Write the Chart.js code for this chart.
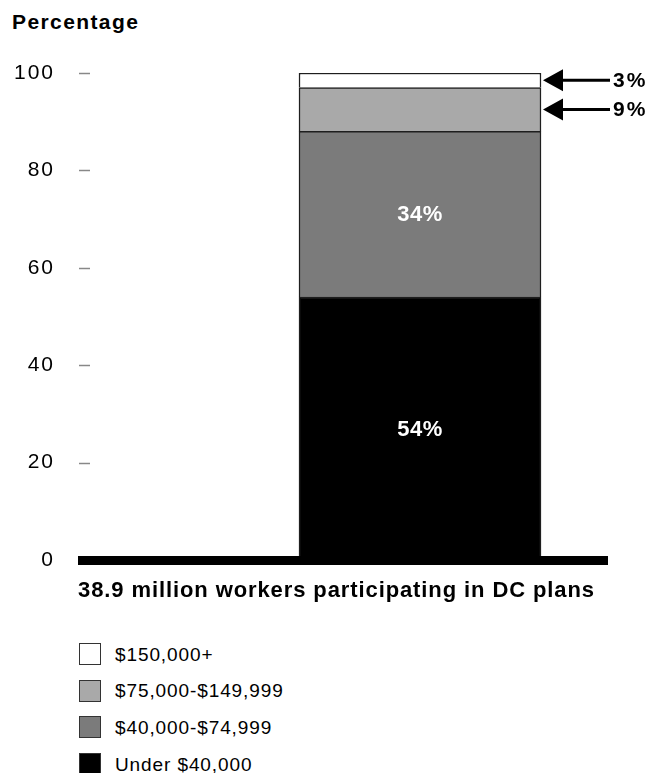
<!DOCTYPE html>
<html>
<head>
<meta charset="utf-8">
<script src="https://cdn.jsdelivr.net/npm/chart.js@4.4.1/dist/chart.umd.min.js"></script>
<style>
  body { margin: 0; width: 652px; height: 773px; background: #fff; position: relative; overflow: hidden;
         font-family: "Liberation Sans", Arial, sans-serif; color: #000; }
  #wrap { position: absolute; left: 0; top: 0; width: 652px; height: 580px; }
  #chart { display: block; width: 652px; height: 580px; }
  .ytitle { position: absolute; left: 12px; top: 11px; font-size: 21px; line-height: 21px; font-weight: bold; letter-spacing: 1.4px; }
  .xtitle { position: absolute; left: 78px; top: 579px; font-size: 22px; line-height: 22px; font-weight: bold; letter-spacing: 0.9px; white-space: nowrap; }
  #legend { position: absolute; left: 79px; top: 643px; }
  .item { display: flex; align-items: center; height: 22px; margin-bottom: 14.7px; }
  .swatch { box-sizing: border-box; width: 22px; height: 22px; border: 1.5px solid #333; margin-right: 14px; }
  .item span { font-size: 19px; line-height: 19px; letter-spacing: 0.9px; white-space: nowrap; }
</style>
</head>
<body>
<div class="ytitle">Percentage</div>
<div id="wrap"><canvas id="chart" width="652" height="580"></canvas></div>
<div class="xtitle" id="xtitle"></div>
<div id="legend"></div>

<script>
// Data
const categories = ['38.9 million workers participating in DC plans'];
const incomeGroups = ['Under $40,000', '$40,000-$74,999', '$75,000-$149,999', '$150,000+'];
const shares = [54, 34, 9, 3];
const yMax = 100;
const yStep = 20;

// Styles
const fills = ['#000000', '#7b7b7b', '#a9a9a9', '#ffffff'];
const FONT = '"Liberation Sans", Arial, sans-serif';

document.getElementById('xtitle').textContent = categories[0];

// Legend, top item first
const legend = document.getElementById('legend');
incomeGroups.slice().reverse().forEach((g, k) => {
    const i = incomeGroups.length - 1 - k;
    const row = document.createElement('div');
    row.className = 'item';
    row.innerHTML = `<div class="swatch" style="background:${fills[i]}"></div><span></span>`;
    row.querySelector('span').textContent = g;
    legend.appendChild(row);
});

const decor = {
    id: 'decor',
    beforeDraw(chart) {
        // tracking for the axis numbers
        chart.ctx.letterSpacing = '2px';
    },
    afterDatasetsDraw(chart) {
        const { ctx, chartArea } = chart;
        const y = chart.scales.y;
        ctx.save();
        ctx.letterSpacing = '0px';

        // short dashes beside the tick numbers
        ctx.strokeStyle = '#888';
        ctx.lineWidth = 1.5;
        y.ticks.forEach(t => {
            if (t.value === 0) return;
            const py = Math.round(y.getPixelForValue(t.value)) + 0.5;
            ctx.beginPath();
            ctx.moveTo(79, py);
            ctx.lineTo(90, py);
            ctx.stroke();
        });

        // heavy baseline
        const y0 = y.getPixelForValue(0);
        ctx.fillStyle = '#000';
        ctx.fillRect(78, y0 - 4, chartArea.right - 78, 9);

        // segment labels
        shares.forEach((v, i) => {
            const el = chart.getDatasetMeta(i).data[0];
            const cy = (el.y + el.base) / 2;
            if (v >= 20) {
                ctx.fillStyle = '#fff';
                ctx.font = 'bold 22px ' + FONT;
                ctx.letterSpacing = '0.5px';
                ctx.textAlign = 'center';
                ctx.textBaseline = 'middle';
                ctx.fillText(v + '%', el.x, cy + 1);
            } else {
                const right = el.x + el.width / 2;
                ctx.fillStyle = '#000';
                ctx.beginPath();
                ctx.moveTo(right + 2, cy);
                ctx.lineTo(right + 22, cy - 11);
                ctx.lineTo(right + 22, cy + 11);
                ctx.closePath();
                ctx.fill();
                ctx.strokeStyle = '#000';
                ctx.lineWidth = 3;
                ctx.beginPath();
                ctx.moveTo(right + 20, cy);
                ctx.lineTo(right + 69, cy);
                ctx.stroke();
                ctx.font = 'bold 21px ' + FONT;
                ctx.letterSpacing = '2px';
                ctx.textAlign = 'left';
                ctx.textBaseline = 'middle';
                ctx.fillText(v + '%', right + 72, cy + 1);
            }
        });
        ctx.restore();
    }
};

new Chart(document.getElementById('chart'), {
    type: 'bar',
    data: {
        labels: categories,
        datasets: incomeGroups.map((g, i) => ({
            label: g,
            data: [shares[i]],
            backgroundColor: fills[i],
            borderColor: '#1e1e1e',
            borderWidth: 1.5,
            barThickness: 242
        }))
    },
    options: {
        responsive: false,
        maintainAspectRatio: false,
        animation: false,
        layout: { padding: { top: 73, bottom: 20, right: 44, left: 0 } },
        plugins: { legend: { display: false }, tooltip: { enabled: false } },
        scales: {
            x: { stacked: true, display: false },
            y: {
                stacked: true,
                min: 0,
                max: yMax,
                afterFit(scale) {
                    // wide axis so the bar sits right of centre; keep vertical padding small
                    scale.width = 232;
                    scale.paddingTop = 12;
                    scale.paddingBottom = 12;
                },
                grid: { display: false, drawTicks: false },
                border: { display: false },
                ticks: {
                    stepSize: yStep,
                    color: '#000',
                    padding: 177,
                    font: { family: FONT, size: 21 }
                }
            }
        }
    },
    plugins: [decor]
});
</script>
</body>
</html>
